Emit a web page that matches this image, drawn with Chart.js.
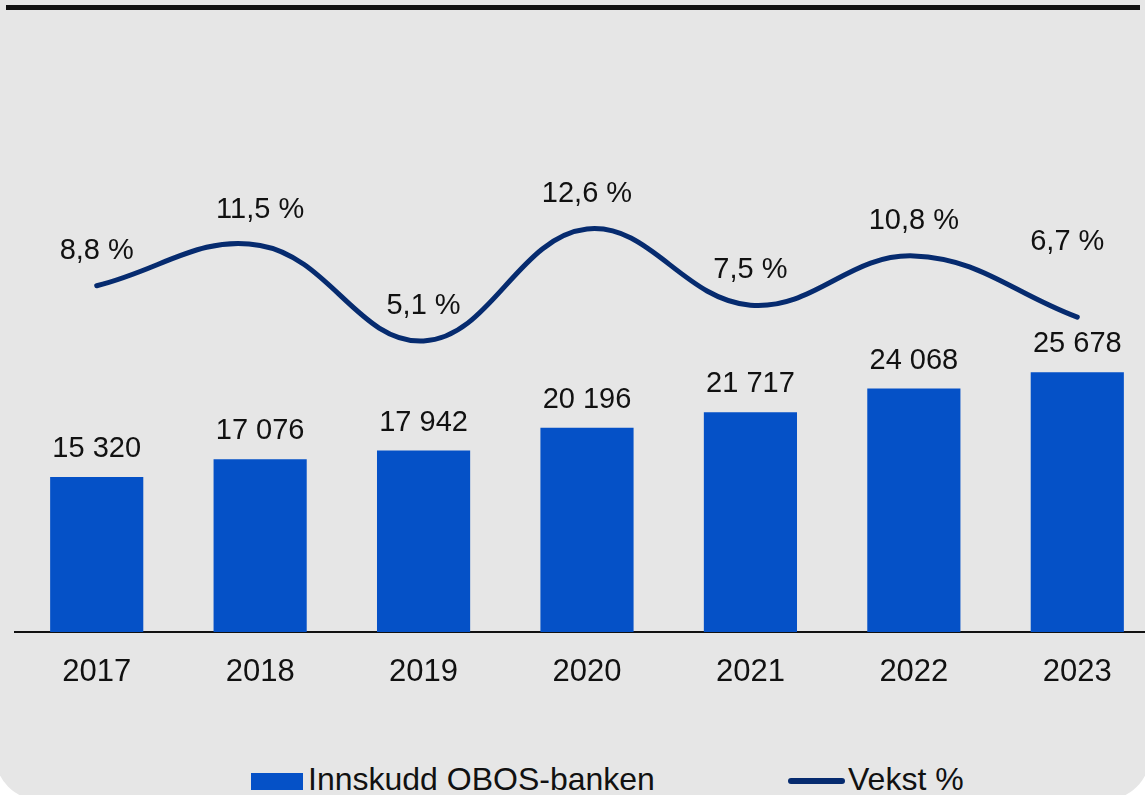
<!DOCTYPE html>
<html>
<head>
<meta charset="utf-8">
<script src="https://cdn.jsdelivr.net/npm/chart.js@4/dist/chart.umd.min.js"></script>
<style>
    html, body { margin: 0; padding: 0; background: #fff; overflow: hidden; width: 1145px; height: 795px; }
    .card { position: absolute; left: -5px; top: -40px; width: 1155px; height: 840px; background: #e6e6e6; border-radius: 45px; }
    .topline { position: absolute; left: 6px; top: 5px; width: 1134px; height: 5px; background: #111; }
    #chart { position: absolute; left: 0; top: 0; }
    .legend { position: absolute; top: 763px; font: 32px "Liberation Sans", Arial, sans-serif; line-height: 32px; color: #111; white-space: nowrap; }
    .swatch-bar { position: absolute; left: 251px; top: 773px; width: 52px; height: 17px; background: #0551c7; }
    .swatch-line { position: absolute; left: 788px; top: 778px; width: 57px; height: 6px; border-radius: 3px; background: #062b6f; }
</style>
</head>
<body>
<div class="card"></div>
<div class="topline"></div>
<canvas id="chart" width="1159" height="700"></canvas>

<div class="swatch-bar"></div>
<div class="legend" style="left:308px">Innskudd OBOS-banken</div>
<div class="swatch-line"></div>
<div class="legend" style="left:848px">Vekst %</div>

<script>
const years = ['2017', '2018', '2019', '2020', '2021', '2022', '2023'];
const deposits = [15320, 17076, 17942, 20196, 21717, 24068, 25678];
const growth = [8.8, 11.5, 5.1, 12.6, 7.5, 10.8, 6.7];

const BAR_COLOR = '#0551c7';
const LINE_COLOR = '#062b6f';
const FONT = '"Liberation Sans", Arial, sans-serif';

const fmtInt = v => String(v).replace(/\B(?=(\d{3})+(?!\d))/g, ' ');
const fmtPct = v => v.toFixed(1).replace('.', ',') + ' %';

// draws the value labels above bars and line points
const valueLabels = {
    id: 'valueLabels',
    afterDatasetsDraw(chart) {
        const ctx = chart.ctx;
        ctx.save();
        ctx.fillStyle = '#111';
        ctx.font = '29px ' + FONT;
        ctx.textAlign = 'center';
        ctx.textBaseline = 'middle';
        chart.data.datasets.forEach((ds, i) => {
            const meta = chart.getDatasetMeta(i);
            const last = meta.data.length - 1;
            meta.data.forEach((el, j) => {
                if (ds.type === 'bar') {
                    ctx.fillText(fmtInt(ds.data[j]), el.x, el.y - 28);
                } else if (j === last) {
                    // last label is lifted clear of the bar label below it
                    ctx.fillText(fmtPct(ds.data[j]), el.x - 10, el.y - 75);
                } else {
                    ctx.fillText(fmtPct(ds.data[j]), el.x, el.y - 35);
                }
            });
        });
        ctx.restore();
    }
};

new Chart(document.getElementById('chart'), {
    data: {
        labels: years,
        datasets: [
            {
                type: 'line',
                label: 'Vekst %',
                data: growth,
                yAxisID: 'yPct',
                borderColor: LINE_COLOR,
                borderWidth: 5,
                borderCapStyle: 'round',
                tension: 0.4,
                pointRadius: 0,
                order: 0
            },
            {
                type: 'bar',
                label: 'Innskudd OBOS-banken',
                data: deposits,
                yAxisID: 'y',
                backgroundColor: BAR_COLOR,
                categoryPercentage: 1,
                barPercentage: 0.57,
                order: 1
            }
        ]
    },
    options: {
        responsive: false,
        animation: false,
        devicePixelRatio: 1,
        layout: { padding: { left: 15, right: 0, top: 60, bottom: 0 } },
        plugins: {
            legend: { display: false },
            tooltip: { enabled: false }
        },
        scales: {
            x: {
                grid: { display: false, drawTicks: false },
                border: { display: true, color: '#111', width: 2 },
                ticks: { color: '#111', font: { family: FONT, size: 31 }, padding: 22 },
                afterFit(scale) { scale.height = 68; }
            },
            y: { display: false, min: 0, max: 56550 },
            yPct: { display: false, min: -14.39, max: 23.92 }
        }
    },
    plugins: [valueLabels]
});
</script>
</body>
</html>
